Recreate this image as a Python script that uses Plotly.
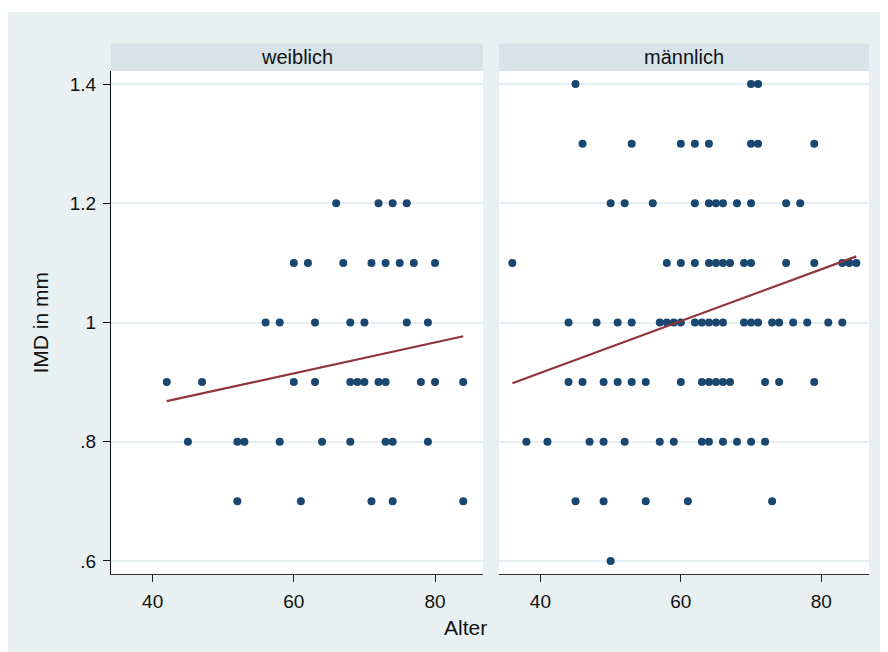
import plotly.graph_objects as go

# ---- data ----
imd_levels = [1.4, 1.3, 1.2, 1.1, 1.0, 0.9, 0.8, 0.7, 0.6]
weiblich_ages = [
    [],
    [],
    [66, 72, 74, 76],
    [60, 62, 67, 71, 73, 75, 77, 80],
    [56, 58, 63, 68, 70, 76, 79],
    [42, 47, 60, 63, 68, 69, 70, 72, 73, 78, 80, 84],
    [45, 52, 53, 58, 64, 68, 73, 74, 79],
    [52, 61, 71, 74, 84],
    [],
]
maennlich_ages = [
    [45, 70, 71],
    [46, 53, 60, 62, 64, 70, 71, 79],
    [50, 52, 56, 62, 64, 65, 66, 68, 70, 75, 77],
    [36, 58, 60, 62, 64, 65, 66, 67, 69, 70, 75, 79, 83, 84, 85],
    [44, 48, 51, 53, 57, 58, 59, 60, 62, 63, 64, 65, 66, 69, 70, 71, 73, 74, 76, 78, 81, 83],
    [44, 46, 49, 51, 53, 55, 60, 63, 64, 65, 66, 67, 72, 74, 79],
    [38, 41, 47, 49, 52, 57, 59, 63, 64, 66, 68, 70, 72],
    [45, 49, 55, 61, 73],
    [50],
]
weiblich_fit_age = [42, 84]
weiblich_fit_imd = [0.868, 0.977]
maennlich_fit_age = [36, 85]
maennlich_fit_imd = [0.898, 1.111]

panel_titles = ["weiblich", "männlich"]
x_tickvals = [40, 60, 80]
y_tickvals = [0.6, 0.8, 1.0, 1.2, 1.4]
y_ticktext = [".6", ".8", "1", "1.2", "1.4"]
x_title = "Alter"
y_title = "IMD in mm"

# ---- styles ----
BG = "#e9f0f2"
HEAD = "#d7e3e9"
GRID = "#e6eef1"
DOT = "#1a476f"
FIT = "#90353b"
FONT = "Liberation Sans, Arial, sans-serif"

# page body has an 8px margin; figure coords = screen coords - 8
W, H = 880, 644
ML, MT = 103, 63
MR = W - 861
MB = H - 566
PW = W - ML - MR
PH = H - MT - MB


def flatten(ages_by_level):
    xs, ys = [], []
    for lvl, ages in zip(imd_levels, ages_by_level):
        for a in ages:
            xs.append(a)
            ys.append(lvl)
    return xs, ys


fig = go.Figure()
panels = [
    (weiblich_ages, weiblich_fit_age, weiblich_fit_imd, "x", "y"),
    (maennlich_ages, maennlich_fit_age, maennlich_fit_imd, "x2", "y2"),
]
for ages, fa, fi, xa, ya in panels:
    xs, ys = flatten(ages)
    fig.add_trace(go.Scatter(x=xs, y=ys, mode="markers", xaxis=xa, yaxis=ya,
                             marker=dict(size=8, color=DOT, line=dict(width=0)),
                             showlegend=False, hoverinfo="skip"))
    fig.add_trace(go.Scatter(x=fa, y=fi, mode="lines", xaxis=xa, yaxis=ya,
                             line=dict(color=FIT, width=2.2),
                             showlegend=False, hoverinfo="skip"))

d1 = 372 / PW
d2 = 388 / PW
xcommon = dict(range=[34.1, 86.8], tickvals=x_tickvals, ticks="outside", ticklen=7,
               tickcolor="#222", tickwidth=1, showline=True, linecolor="#333", linewidth=1,
               showgrid=False, zeroline=False, tickfont=dict(size=19, color="#111", family=FONT),
               ticklabelstandoff=3, fixedrange=True)
ycommon = dict(range=[0.578, 1.422], tickvals=y_tickvals, ticktext=y_ticktext,
               showgrid=True, gridcolor=GRID, gridwidth=2, zeroline=False, fixedrange=True)

fig.update_layout(
    width=W, height=H,
    margin=dict(l=ML, r=MR, t=MT, b=MB),
    paper_bgcolor=BG, plot_bgcolor="white",
    font=dict(family=FONT, color="#111"),
    xaxis=dict(domain=[0, d1], anchor="y", **xcommon),
    xaxis2=dict(domain=[d2, 1], anchor="y2", **xcommon),
    yaxis=dict(domain=[0, 1], anchor="x", ticks="outside", ticklen=7, tickcolor="#111",
               showline=True, linecolor="#111", linewidth=1,
               tickfont=dict(size=19, color="#111", family=FONT), ticklabelstandoff=3,
               **ycommon),
    yaxis2=dict(domain=[0, 1], anchor="x2", matches="y", showticklabels=False, ticks="",
                showline=False, **ycommon),
    showlegend=False,
)

shapes = []
annotations = []
hh = 27.5 / PH
for (x0, x1), title in zip([(0, d1), (d2, 1)], panel_titles):
    shapes.append(dict(type="rect", xref="paper", yref="paper", x0=x0, x1=x1, y0=1, y1=1 + hh,
                       fillcolor=HEAD, line=dict(width=0)))
    annotations.append(dict(text=title, xref="paper", yref="paper", x=(x0 + x1) / 2, y=1 + hh / 2,
                            showarrow=False, xanchor="center", yanchor="middle",
                            font=dict(size=20, color="#111", family=FONT)))

# thin white strip at the very top
shapes.append(dict(type="rect", xref="paper", yref="paper", x0=-0.3, x1=1.2,
                   y0=1 + (MT - 4) / PH, y1=1 + (MT + 5) / PH, fillcolor="white", line=dict(width=0)))

annotations.append(dict(text=x_title, xref="paper", yref="paper", x=(457 - ML) / PW,
                        y=-(619 - (MT + PH)) / PH, showarrow=False, xanchor="center", yanchor="middle",
                        font=dict(size=21, color="#111", family=FONT)))
annotations.append(dict(text=y_title, xref="paper", yref="paper", x=(32 - ML) / PW, y=0.5,
                        textangle=-90, showarrow=False, xanchor="center", yanchor="middle",
                        font=dict(size=21, color="#111", family=FONT)))

fig.update_layout(shapes=shapes, annotations=annotations)
fig.write_html("out.html")
